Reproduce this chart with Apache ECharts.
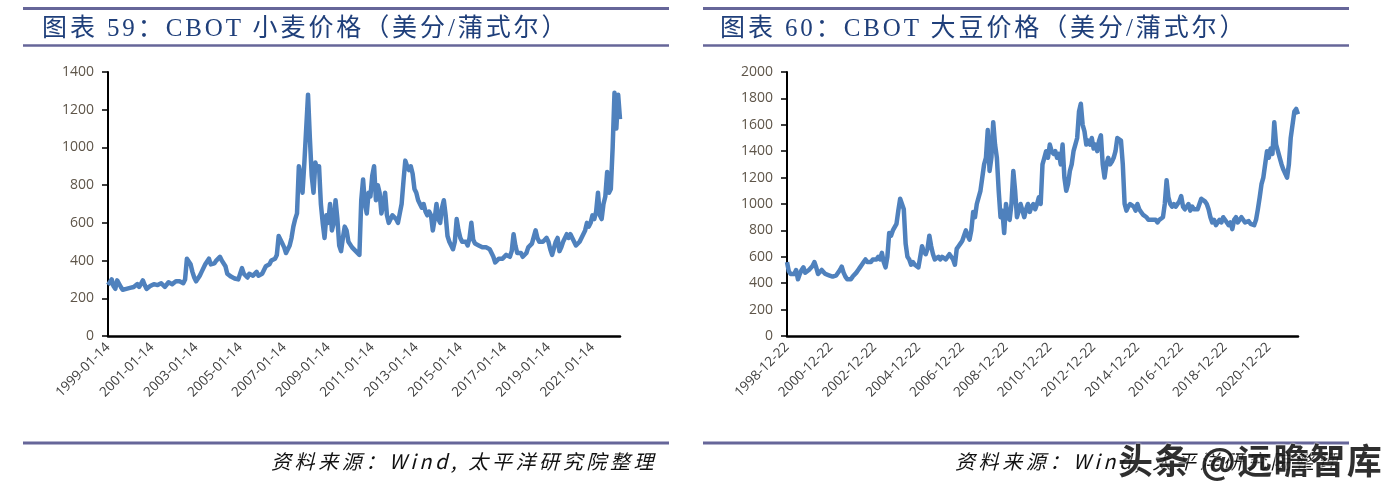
<!DOCTYPE html>
<html><head><meta charset="utf-8">
<script src="https://cdn.jsdelivr.net/npm/echarts@6/dist/echarts.min.js"></script>
<style>
html,body{margin:0;padding:0;background:#fff;}
#wrap{position:relative;width:1386px;height:489px;overflow:hidden;}
#chart{position:absolute;left:0;top:0;width:1386px;height:489px;}
.title{position:absolute;top:12px;font-family:"Liberation Serif","Noto Sans CJK SC",serif;font-size:25px;color:#1F3F7A;letter-spacing:2.9px;white-space:nowrap;line-height:32px;}
.src{position:absolute;top:447px;font-family:"Noto Sans CJK SC",sans-serif;font-style:italic;font-size:20px;letter-spacing:3.6px;color:#111;white-space:nowrap;line-height:28px;}
.wm{position:absolute;left:1118px;top:435px;font-family:"Noto Sans CJK SC",sans-serif;font-weight:bold;font-size:35px;letter-spacing:1.5px;color:#1e1e1e;white-space:nowrap;line-height:48px;text-shadow:0 0 2px #fff,0 0 2px #fff;opacity:0.92;}
</style></head>
<body>
<div id="wrap">
<div id="chart"></div>
<div class="title" style="left:42px;">图表 59：CBOT 小麦价格（美分/蒲式尔）</div>
<div class="title" style="left:720px;">图表 60：CBOT 大豆价格（美分/蒲式尔）</div>
<div class="src" style="left:271px;">资料来源：Wind, 太平洋研究院整理</div>
<div class="src" style="left:955px;">资料来源：Wind, 太平洋研究院整理</div>
<div class="wm">头条 @远瞻智库</div>
</div>
<script>
// CBOT wheat, monthly from 1999-01 (US cents / bushel)
const wheatValues = [
  270, 280, 300, 265, 250, 295, 285, 260, 245, 240, 250, 260,
  255, 265, 260, 270, 275, 260, 250, 295, 270, 250, 260, 265,
  270, 275, 280, 270, 265, 280, 275, 260, 270, 285, 280, 275,
  285, 290, 280, 290, 285, 280, 300, 410, 400, 380, 340, 310,
  290, 300, 320, 340, 330, 380, 395, 410, 380, 370, 385, 400,
  410, 420, 400, 410, 370, 330, 320, 315, 310, 305, 300, 300,
  300, 360, 330, 320, 310, 330, 340, 320, 330, 340, 320, 320,
  330, 350, 370, 370, 380, 400, 390, 410, 430, 530, 510, 490,
  470, 440, 430, 480, 520, 580, 620, 650, 900, 850, 760, 920,
  920, 1280, 1050, 850, 760, 920, 880, 900, 700, 600, 520, 640,
  600, 700, 560, 600, 720, 620, 480, 450, 520, 580, 560, 500,
  500, 470, 480, 450, 460, 430, 720, 830, 700, 650, 760, 740,
  850, 900, 720, 800, 760, 650, 700, 760, 640, 600, 620, 640,
  640, 620, 600, 650, 700, 820, 930, 900, 880, 900, 860, 780,
  760, 720, 700, 680, 700, 660, 640, 660, 640, 560, 620, 700,
  620, 600, 680, 720, 640, 530, 500, 480, 460, 500, 620, 560,
  520, 500, 490, 500, 480, 520, 600, 510, 490, 500, 480, 470,
  470, 460, 470, 480, 460, 440, 420, 390, 400, 410, 400, 410,
  420, 430, 430, 420, 450, 540, 480, 440, 430, 440, 420, 420,
  440, 470, 480, 490, 500, 560, 520, 500, 510, 500, 510, 520,
  500, 460, 430, 440, 500, 520, 450, 470, 500, 510, 540, 520,
  540, 520, 500, 480, 490, 500, 520, 530, 560, 600, 580, 600,
  640, 620, 660, 760, 640, 620, 700, 740, 870, 760, 780, 1000,
  1290, 1100, 1280, 1150
];
// CBOT soybean, monthly from 1998-12 (US cents / bushel)
const soyValues = [
  560, 490, 470, 480, 470, 500, 430, 470, 500, 520, 480, 490, 500,
  510, 530, 560, 520, 470, 480, 500, 490, 470, 480, 460, 470,
  450, 440, 460, 470, 500, 525, 480, 450, 430, 440, 430, 450,
  460, 480, 500, 520, 540, 560, 580, 560, 570, 560, 580, 570,
  580, 600, 580, 630, 560, 520, 600, 780, 760, 800, 790, 850,
  950, 1040, 1000, 960, 700, 600, 580, 540, 560, 540, 530, 520,
  600, 680, 640, 620, 660, 760, 680, 620, 580, 590, 600, 580,
  600, 610, 580, 600, 620, 600, 580, 540, 660, 680, 700, 720,
  760, 800, 760, 730, 800, 940, 900, 1000, 1050, 1100, 1200, 1300,
  1350, 1560, 1250, 1350, 1620, 1450, 1350, 1100, 900, 950, 780, 1000,
  900, 880, 1000, 1250, 1100, 900, 950, 1000, 950, 900, 960, 1000,
  940, 980, 1000, 960, 1000, 1050, 1000, 1300, 1350, 1400, 1350, 1450,
  1400, 1380, 1400, 1350, 1380, 1300, 1450, 1200, 1100, 1150, 1250, 1300,
  1400, 1450, 1500, 1700, 1760, 1600, 1550, 1450, 1480, 1450, 1500, 1420,
  1450, 1400, 1480, 1520, 1300, 1200, 1300, 1350, 1300, 1320, 1350, 1400,
  1500, 1500, 1480, 1300, 1000, 950, 980, 1000, 1000, 980, 950, 1000,
  960, 940, 920, 930, 900, 880, 870, 880, 870, 880, 860, 880,
  870, 900, 1000, 1180, 1050, 1000, 980, 1000, 980, 1000, 1020, 1060,
  980, 960, 970, 1000, 950, 980, 960, 970, 960, 1000, 1040, 1050,
  1020, 1000, 960, 900, 860, 880, 840, 860, 880, 860, 900, 880,
  880, 840, 860, 810, 880, 900, 860, 880, 900, 890, 860, 860,
  870, 850, 860, 840, 880, 960, 1050, 1150, 1200, 1300, 1400, 1350,
  1420, 1380, 1620, 1450, 1400, 1350, 1300, 1260, 1250, 1200, 1300, 1500,
  1600, 1700, 1720, 1680
];
// y-axis tick settings
const wheatAxis = { min: 0, max: 1400, step: 200 };
const soyAxis = { min: 0, max: 2000, step: 200 };

function monthlyDates(year, month, n, day) {
  const out = [];
  for (let i = 0; i < n; i++) {
    const yy = year + Math.floor((month - 1 + i) / 12);
    const mm = ((month - 1 + i) % 12) + 1;
    out.push(yy + '-' + String(mm).padStart(2, '0') + '-' + day);
  }
  return out;
}
const wheatDates = monthlyDates(1999, 1, wheatValues.length, '14');
const soyDates = monthlyDates(1998, 12, soyValues.length, '22');

const chart = echarts.init(document.getElementById('chart'), null, { renderer: 'canvas' });
const lineColor = '#666699';
function xAxisFor(idx, data) {
  return {
    gridIndex: idx, type: 'category', data: data, boundaryGap: false,
    axisLine: { show: true, lineStyle: { color: '#000', width: 2.5 } },
    axisTick: { show: false },
    axisLabel: { interval: 23, rotate: 45, fontSize: 13.5, color: '#404040', margin: 9, fontFamily: 'Open Sans' },
    splitLine: { show: false }
  };
}
function yAxisFor(idx, ax) {
  return {
    gridIndex: idx, type: 'value', min: ax.min, max: ax.max, interval: ax.step,
    axisLine: { show: true, lineStyle: { color: '#000', width: 2 } },
    axisTick: { show: true, length: 6, lineStyle: { color: '#000', width: 1.5 } },
    axisLabel: { fontSize: 14, color: '#5E5549', margin: 14, fontFamily: 'Open Sans',
      formatter: function (v) { return String(v); } },
    splitLine: { show: false }
  };
}
const option = {
  animation: false,
  backgroundColor: '#fff',
  grid: [
    { left: 108, top: 72, width: 512, height: 264 },
    { left: 787, top: 72, width: 511, height: 264 }
  ],
  xAxis: [xAxisFor(0, wheatDates), xAxisFor(1, soyDates)],
  yAxis: [yAxisFor(0, wheatAxis), yAxisFor(1, soyAxis)],
  series: [
    { type: 'line', xAxisIndex: 0, yAxisIndex: 0, data: wheatValues, symbol: 'none',
      lineStyle: { color: '#4F81BD', width: 4.5, join: 'round' }, itemStyle: { color: '#4F81BD' } },
    { type: 'line', xAxisIndex: 1, yAxisIndex: 1, data: soyValues, symbol: 'none',
      lineStyle: { color: '#4F81BD', width: 4.5, join: 'round' }, itemStyle: { color: '#4F81BD' } }
  ],
  graphic: [
    { type: 'line', shape: { x1: 23, y1: 8.5, x2: 669, y2: 8.5 }, style: { stroke: lineColor, lineWidth: 3 } },
    { type: 'line', shape: { x1: 23, y1: 45.5, x2: 669, y2: 45.5 }, style: { stroke: lineColor, lineWidth: 2.5 } },
    { type: 'line', shape: { x1: 23, y1: 443, x2: 669, y2: 443 }, style: { stroke: lineColor, lineWidth: 3 } },
    { type: 'line', shape: { x1: 703, y1: 8.5, x2: 1349, y2: 8.5 }, style: { stroke: lineColor, lineWidth: 3 } },
    { type: 'line', shape: { x1: 703, y1: 45.5, x2: 1349, y2: 45.5 }, style: { stroke: lineColor, lineWidth: 2.5 } },
    { type: 'line', shape: { x1: 703, y1: 443, x2: 1349, y2: 443 }, style: { stroke: lineColor, lineWidth: 3 } }
  ]
};
chart.setOption(option);
</script>
</body></html>
